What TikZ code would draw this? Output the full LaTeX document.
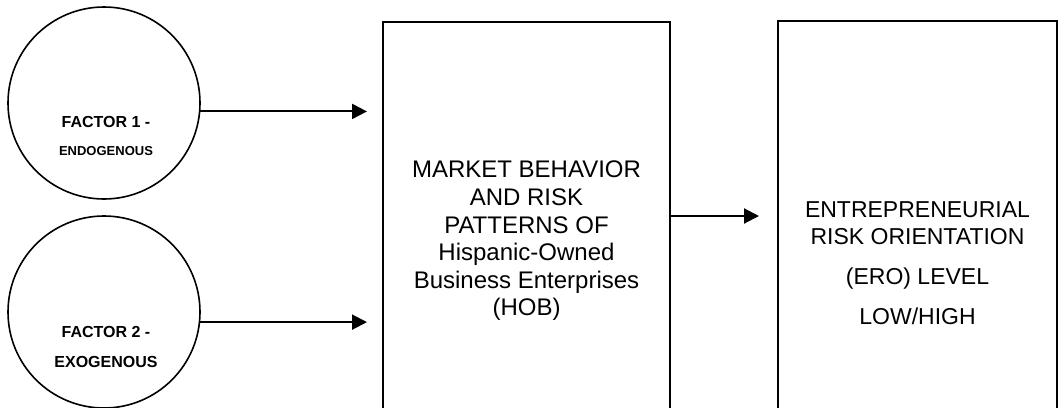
\documentclass[tikz,border=0pt]{standalone}
\usepackage{fontspec}
\setmainfont{Liberation Sans}
\usetikzlibrary{positioning, arrows.meta, calc}

\begin{document}
\begin{tikzpicture}[x=1pt, y=-1pt,
			circulo/.style={circle, draw, line width=1.6pt, minimum size=192pt, inner sep=0pt},
			factor/.style={font=\bfseries\fontsize{16}{28}\selectfont, align=center, inner sep=0pt},
			caja/.style={draw, line width=2pt, align=center, inner sep=0pt},
			flecha/.style={-{Triangle[length=15pt, width=15pt]}, line width=2pt}]
			\useasboundingbox (0,0) rectangle (1059,407);
			\clip (0,0) rectangle (1059,407);
			% factores
			\node[circulo] (fac1) at (104,103) {};
			\node[circulo] (fac2) at (104,312) {};
			\node[factor] (fac1txt) at (106,136)
				{FACTOR 1 -\\{\fontsize{13}{28}\selectfont ENDOGENOUS}};
			\node[factor] (fac2txt) at (106,347)
				{FACTOR 2 -\\[2pt]EXOGENOUS};
			% cajas
			\node[caja, minimum width=287pt, minimum height=438pt,
			      font=\fontsize{24}{27.6}\selectfont] (hob) at (526.5,241)
				{MARKET BEHAVIOR\\AND RISK\\PATTERNS OF\\Hispanic-Owned\\Business Enterprises\\(HOB)};
			\node[caja, minimum width=279pt, minimum height=484pt,
			      font=\fontsize{23}{27}\selectfont] (ero) at (917.5,263)
				{ENTREPRENEURIAL\\RISK ORIENTATION\\[13pt](ERO) LEVEL\\[13pt]LOW/HIGH};
			% flechas
			\draw[flecha, shorten >=15pt] (fac1.-5.4) -- (fac1.-5.4 -| hob.west);
			\draw[flecha, shorten >=15pt] (fac2.-6) -- (fac2.-6 -| hob.west);
			\draw[flecha, shorten >=18pt] ([yshift=25pt]hob.east) -- ([yshift=25pt]hob.east -| ero.west);
		\end{tikzpicture}
\end{document}
